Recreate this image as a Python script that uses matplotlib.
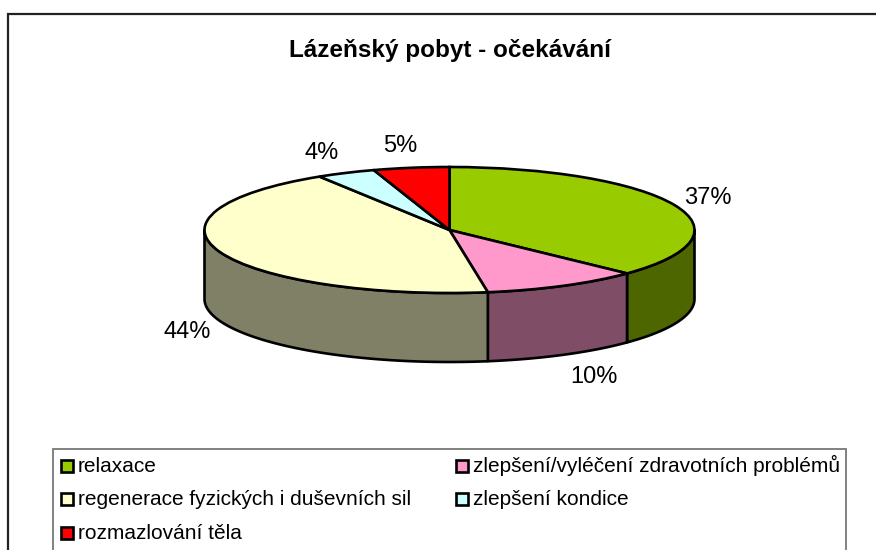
import numpy as np
import matplotlib
matplotlib.use('Agg')
import matplotlib.pyplot as plt
from matplotlib.patches import Rectangle, Polygon

plt.rcParams['font.family'] = ['Liberation Sans', 'DejaVu Sans']

title = 'Lázeňský pobyt - očekávání'
categories = ['relaxace', 'zlepšení/vyléčení zdravotních problémů',
              'regenerace fyzických i duševních sil', 'zlepšení kondice',
              'rozmazlování těla']
# popisky jsou zaokrouhlene, hranice vyseci sedi lip s desetinami
values = [37.1, 10.4, 43.6, 3.9, 5.0]
colors = ['#99CC00', '#FF99CC', '#FFFFCC', '#CCFFFF', '#FF0000']
side_colors = ['#4D6600', '#804D66', '#808066', '#668080', '#800000']

# geometrie v pixelech
W, H = 876, 550
cx, cy = 449.5, 230
rx, ry = 245, 63
depth = 69
label_pos = [(708, 198), (594, 377), (187, 332), (322, 153), (400, 146)]
legend_pos = [(60, 466), (455, 466), (60, 499), (455, 499), (60, 533)]

fig = plt.figure(figsize=(W / 100, H / 100), dpi=100)

# kolac v jednotkach polomeru, osa pres celou plochu
ax = fig.add_axes([0, 0, 1, 1])
ax.pie(values, colors=colors, startangle=90, counterclock=False, radius=1,
       wedgeprops={'edgecolor': 'black', 'linewidth': 1.9})
ax.set_aspect('auto')
ax.set_xlim(-cx / rx, (W - cx) / rx)
ax.set_ylim((cy - H) / ry, cy / ry)
ax.axis('off')

# bocni stena: jen predni pulka (90..270 stupnu po smeru od vrcholu)
d = depth / ry
cum = 0
for v, c in zip(values, side_colors):
    a0 = max(cum / sum(values) * 360, 90)
    a1 = min((cum + v) / sum(values) * 360, 270)
    cum += v
    if a1 <= a0:
        continue
    t = np.radians(np.linspace(a0, a1, 120))
    x, y = np.sin(t), np.cos(t)
    pts = np.r_[np.c_[x, y], np.c_[x, y - d][::-1]]
    ax.add_patch(Polygon(pts, closed=True, facecolor=c, edgecolor='black',
                         linewidth=1.9, joinstyle='round', zorder=0.5))

# ramecek, popisky, legenda v pixelovych souradnicich
ov = fig.add_axes([0, 0, 1, 1], facecolor='none')
ov.set_xlim(0, W)
ov.set_ylim(H, 0)
ov.axis('off')

ov.plot([8, 8, W], [H, 14, 14], color='#222222', lw=1.6, solid_joinstyle='miter')
ov.text(450, 50, title, fontsize=17.5, fontweight='bold', ha='center', va='center')

for v, (lx, ly) in zip(values, label_pos):
    ov.text(lx, ly, f'{round(v)}%', fontsize=17, ha='center', va='center')

ov.add_patch(Rectangle((53, 449), 793, 130, facecolor='white', edgecolor='#777777', lw=1.3))
for name, c, (sx, sy) in zip(categories, colors, legend_pos):
    ov.add_patch(Rectangle((sx + 1, sy - 6), 12, 12, facecolor=c, edgecolor='black', lw=1.9))
    ov.text(sx + 18, sy + 6, name, fontsize=15, ha='left', va='baseline')

fig.savefig('out.png', dpi=100)
